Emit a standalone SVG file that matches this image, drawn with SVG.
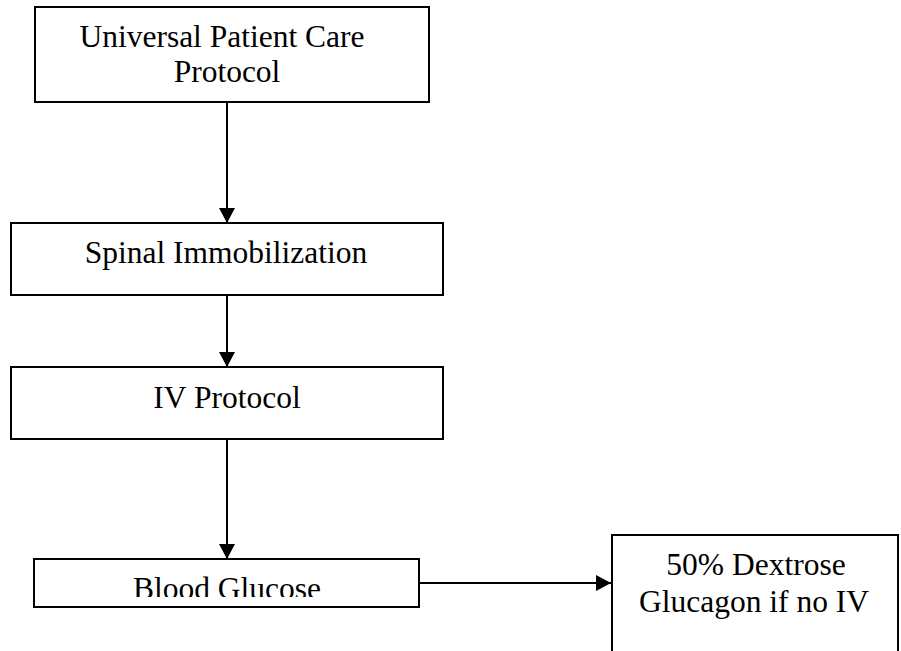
<svg xmlns="http://www.w3.org/2000/svg" width="901" height="651" viewBox="0 0 901 651">
  <style>
    .box { fill: #ffffff; stroke: #000000; stroke-width: 2; }
    .label { font-family: "Liberation Serif", "Times New Roman", serif; font-size: 31.5px; fill: #000000; text-anchor: middle; }
    .link { stroke: #000000; stroke-width: 2; fill: none; marker-end: url(#arrow); }
  </style>
  <defs>
    <!-- filled triangular arrowhead, tip at the line end -->
    <marker id="arrow" markerWidth="15" markerHeight="16" refX="15" refY="8" orient="auto" markerUnits="userSpaceOnUse" viewBox="0 0 15 16">
      <path d="M0,0 L15,8 L0,16 Z" fill="#000000"/>
    </marker>
    <!-- the Blood Glucose label is cut off above the box's lower edge -->
    <clipPath id="glucoseClip">
      <rect x="35" y="560" width="384" height="37"/>
    </clipPath>
  </defs>
  <rect width="901" height="651" fill="#ffffff"/>

  <g id="connectors">
    <line class="link" x1="227" y1="102" x2="227" y2="223"/>
    <line class="link" x1="227" y1="295" x2="227" y2="367"/>
    <line class="link" x1="227" y1="439" x2="227" y2="559"/>
    <line class="link" x1="419" y1="583" x2="611" y2="583"/>
  </g>

  <g id="universal-patient-care">
    <rect class="box" x="35" y="7" width="394" height="95"/>
    <text class="label" x="222" y="47">Universal Patient Care</text>
    <text class="label" x="227" y="82">Protocol</text>
  </g>

  <g id="spinal-immobilization">
    <rect class="box" x="11" y="223" width="432" height="72"/>
    <text class="label" x="226" y="263">Spinal Immobilization</text>
  </g>

  <g id="iv-protocol">
    <rect class="box" x="11" y="367" width="432" height="72"/>
    <text class="label" x="227" y="408">IV Protocol</text>
  </g>

  <g id="blood-glucose">
    <rect class="box" x="34" y="559" width="385" height="48"/>
    <text class="label" x="227" y="599" clip-path="url(#glucoseClip)">Blood Glucose</text>
  </g>

  <g id="dextrose-glucagon">
    <rect class="box" x="612" y="535" width="286" height="130"/>
    <text class="label" x="756" y="575">50% Dextrose</text>
    <text class="label" x="754" y="612">Glucagon if no IV</text>
  </g>
</svg>
